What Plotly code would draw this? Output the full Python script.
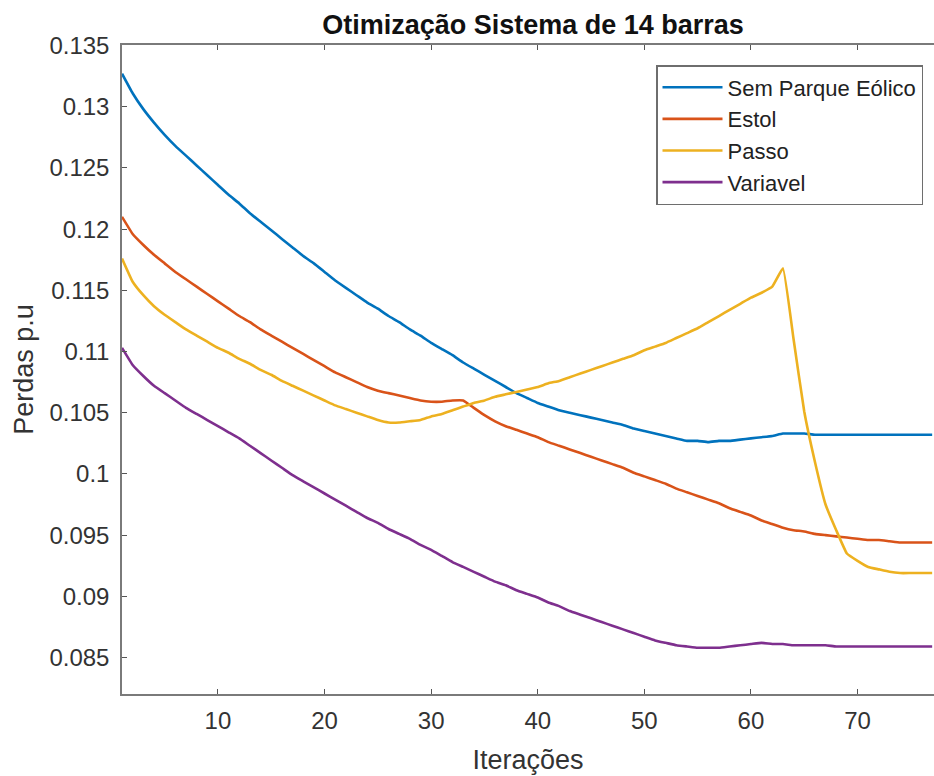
import plotly.graph_objects as go

iteracoes = list(range(1, 78))

sem_parque = [
    0.1327, 0.1311, 0.1298, 0.1287, 0.1277, 0.1268, 0.1260, 0.1252, 0.1244, 0.1236,
    0.1228, 0.1221, 0.1213, 0.1206, 0.1199, 0.1192, 0.1185, 0.1178, 0.1172, 0.1165,
    0.1158, 0.1152, 0.1146, 0.1140, 0.1135, 0.1129, 0.1124, 0.1118, 0.1113, 0.1107,
    0.1102, 0.1097, 0.1091, 0.1086, 0.1081, 0.1076, 0.1071, 0.1066, 0.1062, 0.1058,
    0.1055, 0.1052, 0.1050, 0.1048, 0.1046, 0.1044, 0.1042, 0.1040, 0.1037, 0.1035,
    0.1033, 0.1031, 0.1029, 0.1027, 0.1027, 0.1026, 0.1027, 0.1027, 0.1028, 0.1029,
    0.1030, 0.1031, 0.1033, 0.1033, 0.1033, 0.1032, 0.1032, 0.1032, 0.1032, 0.1032,
    0.1032, 0.1032, 0.1032, 0.1032, 0.1032, 0.1032, 0.1032,
]

estol = [
    0.1210, 0.1196, 0.1187, 0.1179, 0.1172, 0.1165, 0.1159, 0.1153, 0.1147, 0.1141,
    0.1135, 0.1129, 0.1124, 0.1118, 0.1113, 0.1108, 0.1103, 0.1098, 0.1093, 0.1088,
    0.1083, 0.1079, 0.1075, 0.1071, 0.1068, 0.1066, 0.1064, 0.1062, 0.1060, 0.1059,
    0.1059, 0.1060, 0.1060, 0.1054, 0.1048, 0.1043, 0.1039, 0.1036, 0.1033, 0.1030,
    0.1026, 0.1023, 0.1020, 0.1017, 0.1014, 0.1011, 0.1008, 0.1005, 0.1001, 0.0998,
    0.0995, 0.0992, 0.0988, 0.0985, 0.0982, 0.0979, 0.0976, 0.0972, 0.0969, 0.0966,
    0.0962, 0.0959, 0.0956, 0.0954, 0.0953, 0.0951, 0.0950, 0.0949, 0.0948, 0.0947,
    0.0946, 0.0946, 0.0945, 0.0944, 0.0944, 0.0944, 0.0944,
]

passo = [
    0.1176, 0.1157, 0.1146, 0.1137, 0.1130, 0.1124, 0.1118, 0.1113, 0.1108, 0.1103,
    0.1099, 0.1094, 0.1090, 0.1085, 0.1081, 0.1076, 0.1072, 0.1068, 0.1064, 0.1060,
    0.1056, 0.1053, 0.1050, 0.1047, 0.1044, 0.1042, 0.1042, 0.1043, 0.1044, 0.1047,
    0.1049, 0.1052, 0.1055, 0.1058, 0.1060, 0.1063, 0.1065, 0.1067, 0.1069, 0.1071,
    0.1074, 0.1076, 0.1079, 0.1082, 0.1085, 0.1088, 0.1091, 0.1094, 0.1097, 0.1101,
    0.1104, 0.1107, 0.1111, 0.1115, 0.1119, 0.1124, 0.1129, 0.1134, 0.1139, 0.1144,
    0.1148, 0.1153, 0.1168, 0.1110, 0.1051, 0.1010, 0.0975, 0.0954, 0.0935, 0.0929,
    0.0924, 0.0922, 0.0920, 0.0919, 0.0919, 0.0919, 0.0919,
]

variavel = [
    0.1103, 0.1089, 0.1080, 0.1072, 0.1066, 0.1060, 0.1054, 0.1049, 0.1044, 0.1039,
    0.1034, 0.1029, 0.1023, 0.1017, 0.1011, 0.1005, 0.0999, 0.0994, 0.0989, 0.0984,
    0.0979, 0.0974, 0.0969, 0.0964, 0.0960, 0.0955, 0.0951, 0.0947, 0.0942, 0.0938,
    0.0933, 0.0928, 0.0924, 0.0920, 0.0916, 0.0912, 0.0909, 0.0905, 0.0902, 0.0899,
    0.0895, 0.0892, 0.0888, 0.0885, 0.0882, 0.0879, 0.0876, 0.0873, 0.0870, 0.0867,
    0.0864, 0.0862, 0.0860, 0.0859, 0.0858, 0.0858, 0.0858, 0.0859, 0.0860, 0.0861,
    0.0862, 0.0861, 0.0861, 0.0860, 0.0860, 0.0860, 0.0860, 0.0859, 0.0859, 0.0859,
    0.0859, 0.0859, 0.0859, 0.0859, 0.0859, 0.0859, 0.0859,
]

series_names = ["Sem Parque Eólico", "Estol", "Passo", "Variavel"]
series_colors = ["#0072BD", "#D95319", "#EDB120", "#7E2F8E"]
series_values = [sem_parque, estol, passo, variavel]

x_ticks = [10, 20, 30, 40, 50, 60, 70]
y_ticks = [0.085, 0.09, 0.095, 0.1, 0.105, 0.11, 0.115, 0.12, 0.125, 0.13, 0.135]
y_tick_text = ["0.085", "0.09", "0.095", "0.1", "0.105", "0.11", "0.115", "0.12", "0.125", "0.13", "0.135"]

FONT = "Liberation Sans, Arial, Helvetica, sans-serif"
TXT = "#333333"
AX = "#7a7a7a"

fig = go.Figure()
for name, color, vals in zip(series_names, series_colors, series_values):
    fig.add_trace(go.Scatter(x=iteracoes, y=vals, mode="lines", name=name,
                             line=dict(color=color, width=2.6, shape="spline", smoothing=0.3)))

fig.update_layout(
    width=934, height=776,
    margin=dict(l=122, r=0, t=45, b=82, pad=0),
    paper_bgcolor="white", plot_bgcolor="white",
    font=dict(family=FONT, size=24, color=TXT),
    title=dict(text="<b>Otimização Sistema de 14 barras</b>",
               font=dict(family=FONT, size=27, color="#111111"),
               x=533 / 934, xref="container", xanchor="center",
               y=1 - 25 / 776, yref="container", yanchor="middle"),
    showlegend=True,
    legend=dict(x=(923 - 122) / 812, y=(694 - 65) / 649, xanchor="right", yanchor="top",
                bgcolor="white", bordercolor="#6e6e6e", borderwidth=1.5,
                font=dict(family=FONT, size=22, color="#222222"),
                itemwidth=60, tracegroupgap=0),
)

fig.update_xaxes(
    range=[1, 1 + 812 / 10.66], tickvals=x_ticks,
    showgrid=False, zeroline=False,
    showline=True, linecolor=AX, linewidth=1.5, mirror="ticks",
    ticks="inside", ticklen=5, tickcolor="#555555", tickwidth=1,
    tickfont=dict(family=FONT, size=24, color=TXT),
    ticklabelstandoff=4,
    title=dict(text="Iterações", font=dict(family=FONT, size=27, color=TXT), standoff=18),
)
fig.update_yaxes(
    range=[0.08202, 0.13504], tickvals=y_ticks, ticktext=y_tick_text,
    showgrid=False, zeroline=False,
    showline=True, linecolor=AX, linewidth=1.5, mirror=False,
    ticks="inside", ticklen=5, tickcolor="#555555", tickwidth=1,
    tickfont=dict(family=FONT, size=24, color=TXT),
    ticklabelstandoff=6,
    title=dict(text="Perdas p.u", font=dict(family=FONT, size=27, color=TXT), standoff=8),
)

fig.write_html("out.html")
